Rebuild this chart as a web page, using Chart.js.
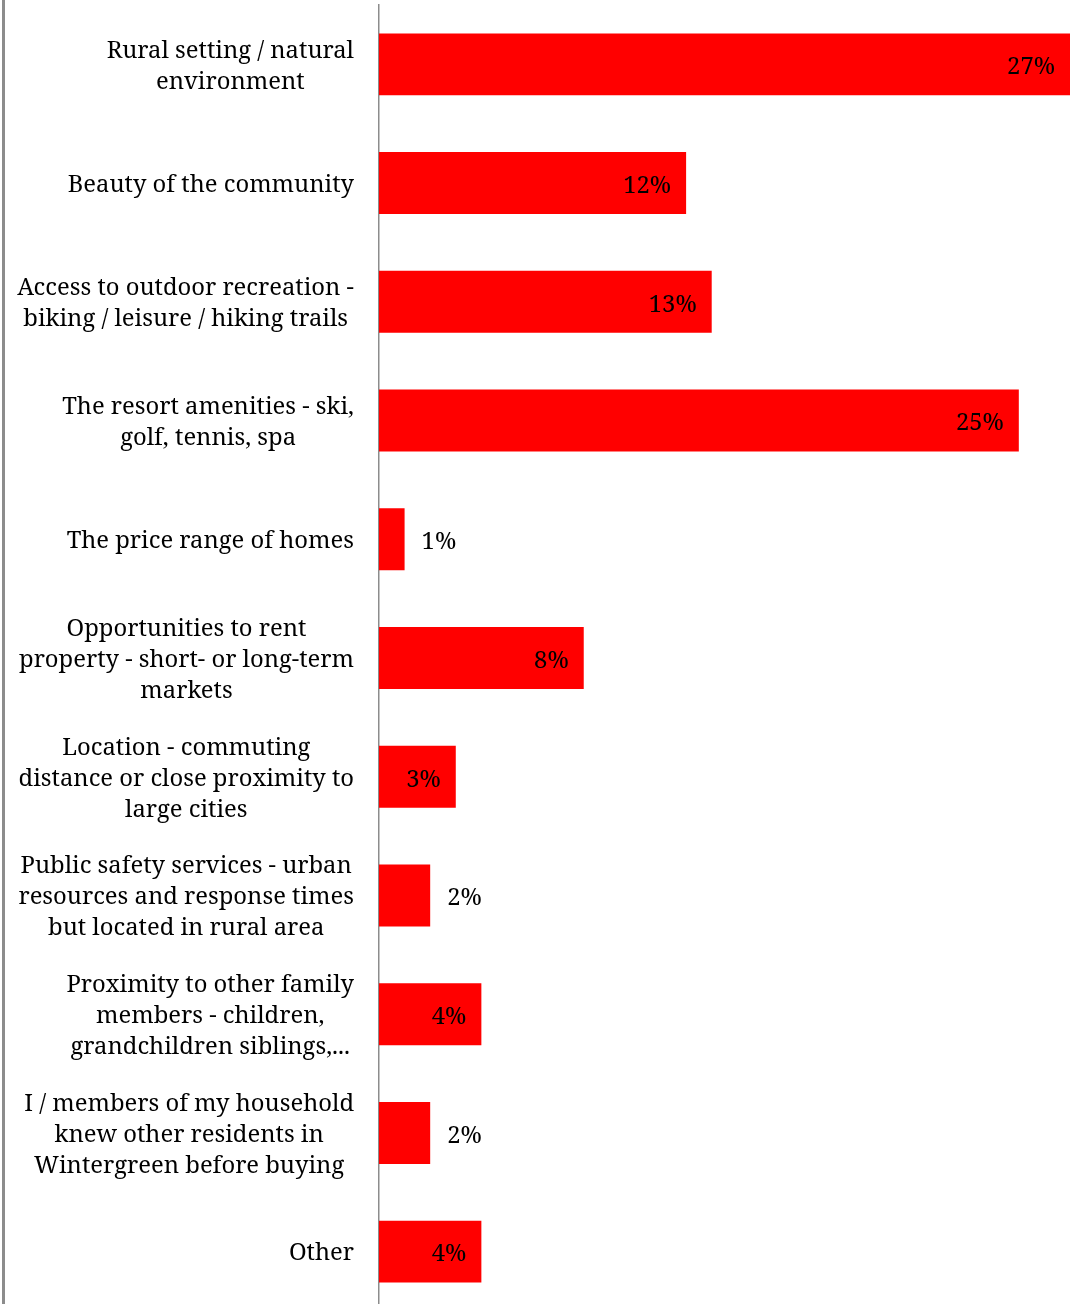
<!DOCTYPE html>
<html>
<head>
<meta charset="utf-8">
<script src="https://cdn.jsdelivr.net/npm/chart.js@4"></script>
<style>
    html, body { margin: 0; padding: 0; background: #fff; overflow: hidden; }
    #wrap { position: relative; width: 1070px; height: 1304px; }
    #frame { position: absolute; left: 2px; top: 0; width: 3px; height: 1304px; background: #8c8c8c; }
    canvas { position: absolute; left: 0; top: 0; }
</style>
</head>
<body>
<div id="wrap">
    <canvas id="reasonsChart" width="1070" height="1311"></canvas>
    <div id="frame"></div>
</div>
<script>
// Reasons for buying - share of respondents
const categories = [
    ['Rural setting / natural', 'environment'],
    ['Beauty of the community'],
    ['Access to outdoor recreation -', 'biking / leisure / hiking trails'],
    ['The resort amenities - ski,', 'golf, tennis, spa'],
    ['The price range of homes'],
    ['Opportunities to rent', 'property - short- or long-term', 'markets'],
    ['Location - commuting', 'distance or close proximity to', 'large cities'],
    ['Public safety services - urban', 'resources and response times', 'but located in rural area'],
    ['Proximity to other family', 'members - children,', 'grandchildren siblings,...'],
    ['I / members of my household', 'knew other residents in', 'Wintergreen before buying'],
    ['Other']
];
const percentages = [27, 12, 13, 25, 1, 8, 3, 2, 4, 2, 4];

const FONT = '23.8px "Noto Serif", "DejaVu Serif", serif';
const LINE_HEIGHT = 31;

// Multi-line category labels: lines centred on each other, block right-aligned
const categoryLabels = {
    id: 'categoryLabels',
    afterDraw(chart) {
        const ctx = chart.ctx;
        const yScale = chart.scales.y;
        const right = yScale.right - 25;
        ctx.save();
        ctx.font = FONT;
        ctx.fillStyle = '#000';
        ctx.textAlign = 'center';
        ctx.textBaseline = 'middle';
        categories.forEach((lines, i) => {
            const widest = Math.max(...lines.map(l => ctx.measureText(l).width));
            const cx = right - widest / 2;
            const cy = yScale.getPixelForValue(i) + 2;
            const top = cy - (lines.length - 1) * LINE_HEIGHT / 2;
            lines.forEach((line, j) => ctx.fillText(line, cx, top + j * LINE_HEIGHT));
        });
        ctx.restore();
    }
};

// Percentage labels at the end of each bar
const valueLabels = {
    id: 'valueLabels',
    afterDatasetsDraw(chart) {
        const ctx = chart.ctx;
        const meta = chart.getDatasetMeta(0);
        ctx.save();
        ctx.font = FONT;
        ctx.fillStyle = '#000';
        ctx.textBaseline = 'middle';
        meta.data.forEach((bar, i) => {
            const v = percentages[i];
            if (v >= 3) {
                ctx.textAlign = 'right';
                ctx.fillText(v + '%', bar.x - 15, bar.y + 3);
            } else {
                ctx.textAlign = 'left';
                ctx.fillText(v + '%', bar.x + 17, bar.y + 3);
            }
        });
        ctx.restore();
    }
};

function drawChart() {
    const ctx = document.getElementById('reasonsChart').getContext('2d');
    new Chart(ctx, {
        type: 'bar',
        data: {
            labels: categories.map(c => c.join(' ')),
            datasets: [{
                data: percentages,
                backgroundColor: '#ff0000',
                borderWidth: 0,
                barPercentage: 0.522,
                categoryPercentage: 1
            }]
        },
        options: {
            indexAxis: 'y',
            responsive: false,
            animation: false,
            layout: { padding: { top: 5, right: 0, bottom: 0, left: 0 } },
            plugins: {
                legend: { display: false },
                tooltip: { enabled: false }
            },
            scales: {
                x: {
                    display: false,
                    min: 0,
                    max: 27
                },
                y: {
                    grid: { display: false, drawTicks: false },
                    border: { display: true, color: '#8c8c8c', width: 1.5 },
                    ticks: { display: false },
                    afterFit(scale) { scale.width = 379; }
                }
            }
        },
        plugins: [categoryLabels, valueLabels]
    });
}

document.addEventListener('DOMContentLoaded', drawChart);
</script>
</body>
</html>
